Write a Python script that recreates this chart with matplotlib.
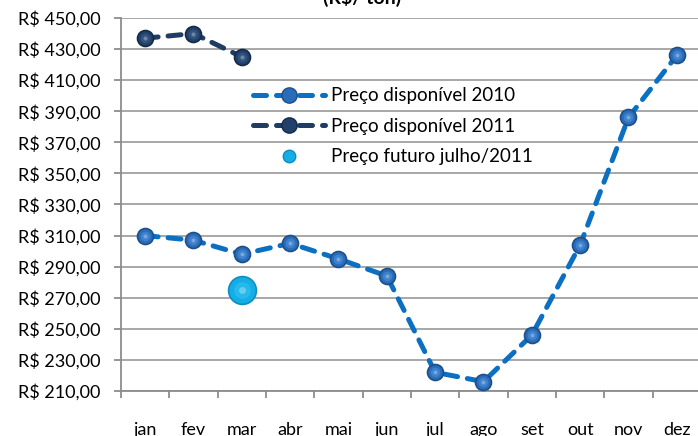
import numpy as np
import matplotlib.pyplot as plt
from matplotlib.lines import Line2D
from matplotlib.ticker import FixedLocator, FuncFormatter

plt.rcParams['font.family'] = ['Lato', 'DejaVu Sans']

# dados
meses = ['jan', 'fev', 'mar', 'abr', 'mai', 'jun', 'jul', 'ago', 'set', 'out', 'nov', 'dez']
preco_2010 = [310, 307, 298, 305, 295, 284, 222, 216, 246, 304, 386, 426]
preco_2011 = [437, 440, 425]
futuro_mes = ['mar']
futuro_valor = [275]

azul = '#0B6FC2'
marinho = '#1F3C63'

fig = plt.figure(figsize=(6.98, 4.36), dpi=100)
# eixo passa da borda direita (imagem recortada)
ax = fig.add_axes([121/698, 1 - 391/436, 580/698, 373/436])

x = np.arange(len(meses))
x11 = np.arange(len(preco_2011))
xf = [meses.index(m) for m in futuro_mes]


def esfera(ax, xs, ys, size, base, edge, light, z, a=0.55):
    # marcador com aspecto de esfera (camadas)
    ax.plot(xs, ys, 'o', ms=size, color=base, mec=edge, mew=1.2, zorder=z)
    ax.plot(xs, ys, 'o', ms=size*0.6, color=light, mew=0, alpha=a, zorder=z+0.1)
    ax.plot(xs, ys, 'o', ms=size*0.25, color='white', mew=0, alpha=0.3, zorder=z+0.2)


ax.plot(x, preco_2010, color=azul, lw=3.6, dashes=(2.6, 2.0),
        dash_capstyle='round', zorder=3)
esfera(ax, x, preco_2010, 11.5, '#2A6CB8', '#1D4F8A', '#4F93DF', 4)

ax.plot(x11, preco_2011, color=marinho, lw=3.6, dashes=(2.6, 2.0),
        dash_capstyle='round', zorder=3)
esfera(ax, x11, preco_2011, 11.5, '#22416A', '#142B48', '#3E6290', 4)

esfera(ax, xf, futuro_valor, 20, '#14AEE6', '#0E8DC0', '#40C8F5', 5, a=0.45)

ax.set_xlim(-0.5, 11.5)
ax.set_ylim(210, 450)
ax.set_yticks(np.arange(210, 451, 20))
ax.yaxis.set_major_formatter(FuncFormatter(lambda v, p: 'R$ %d,00' % v))
ax.grid(axis='y', color='#A0A0A0', lw=1.3)
ax.set_axisbelow(True)

ax.set_xticks(x)
ax.set_xticklabels(meses)
ax.xaxis.set_minor_locator(FixedLocator(np.arange(-0.5, 12, 1)))
ax.tick_params(axis='x', which='major', length=0, pad=22, labelsize=13)
ax.tick_params(axis='x', which='minor', length=5, color='#8C8C8C', width=1.3)
ax.tick_params(axis='y', length=5, color='#8C8C8C', width=1.3, pad=10, labelsize=13)

for s in ['top', 'right']:
    ax.spines[s].set_visible(False)
for s in ['left', 'bottom']:
    ax.spines[s].set_color('#8C8C8C')
    ax.spines[s].set_linewidth(1.3)

h10 = Line2D([], [], color=azul, lw=3.6, dashes=(2.6, 2.0), dash_capstyle='round',
             marker='o', ms=11, mfc='#2A6CB8', mec='#1D4F8A')
h11 = Line2D([], [], color=marinho, lw=3.6, dashes=(2.6, 2.0), dash_capstyle='round',
             marker='o', ms=11, mfc='#22416A', mec='#142B48')
hf = Line2D([], [], ls='none', marker='o', ms=9, mfc='#14AEE6', mec='#0E8DC0')
ax.legend([h10, h11, hf],
          ['Preço disponível 2010', 'Preço disponível 2011', 'Preço futuro julho/2011'],
          loc='upper left', bbox_to_anchor=(0.199, 0.86), frameon=False,
          fontsize=13.5, handlelength=3.85, handletextpad=0.32, labelspacing=0.73,
          numpoints=1)

fig.text(0.518, 1.006, '(R$/ ton)', ha='center', va='center', fontsize=14,
         fontweight='bold')

fig.savefig('out.png', dpi=100)
